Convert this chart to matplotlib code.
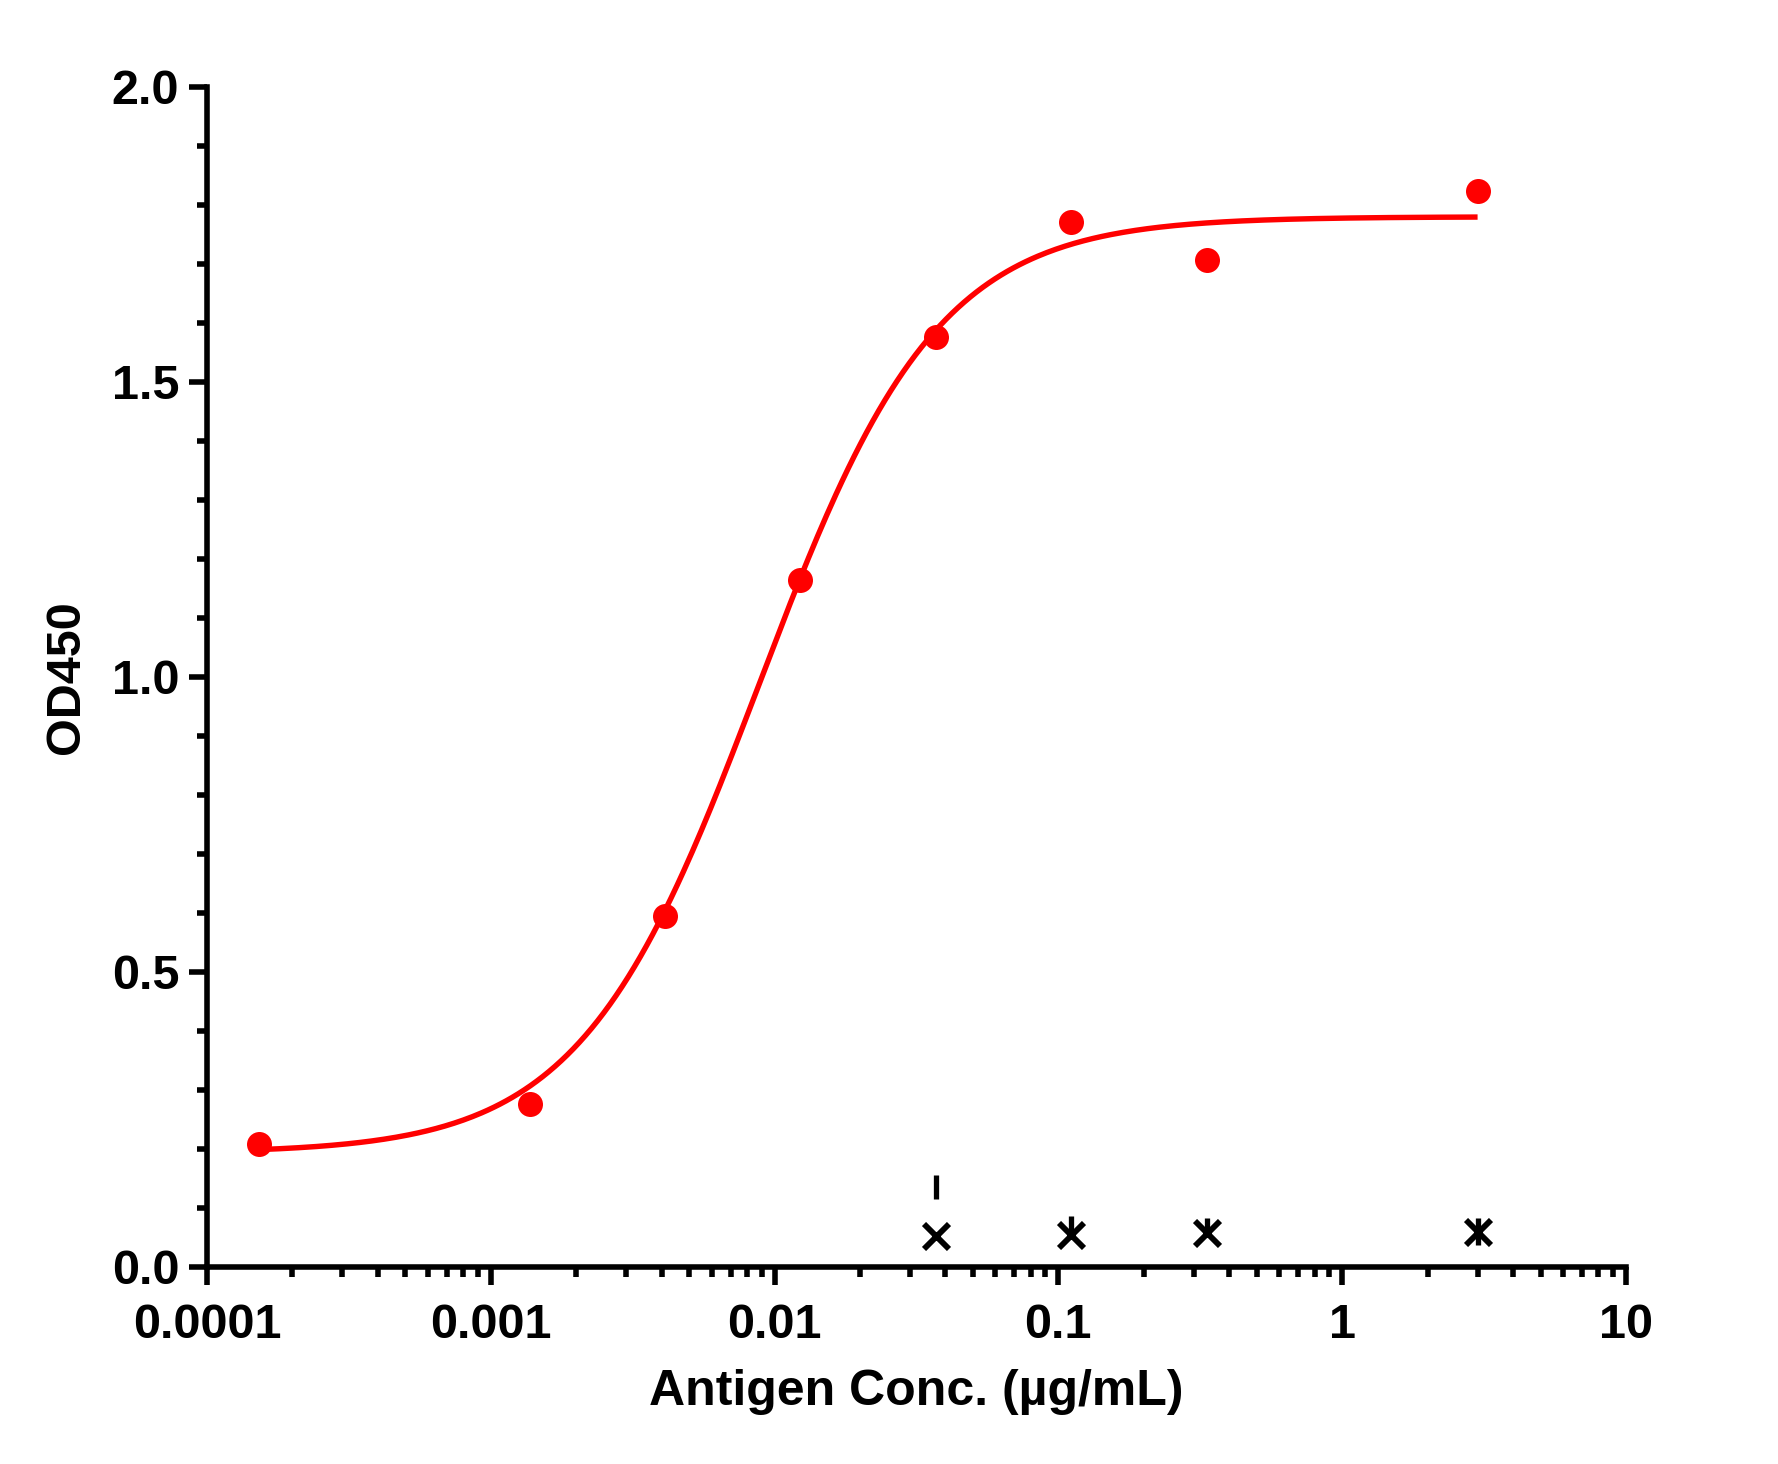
import numpy as np
import matplotlib
matplotlib.use("Agg")
import matplotlib.pyplot as plt
from matplotlib.ticker import FixedLocator, NullFormatter

plt.rcParams['font.family'] = ['Liberation Sans', 'DejaVu Sans']
plt.rcParams['font.weight'] = 'bold'

# ---- data ----
conc_sample = [0.000152, 0.00137, 0.00412, 0.0123, 0.037, 0.111, 0.333, 3.0]
od_sample = [0.208, 0.277, 0.595, 1.164, 1.577, 1.771, 1.706, 1.823]

conc_ctrl = [0.037, 0.111, 0.333, 3.0]
od_ctrl = [0.0525, 0.054, 0.057, 0.060]
ctrl_bar_low = [0.115, 0.054, 0.057, 0.037]
ctrl_bar_high = [0.156, 0.086, 0.083, 0.083]

# 4PL fit parameters
fit_bottom = 0.193
fit_top = 1.780
fit_ec50 = 0.0088
fit_hill = 1.38

x_ticks = [0.0001, 0.001, 0.01, 0.1, 1, 10]
x_tick_labels = ['0.0001', '0.001', '0.01', '0.1', '1', '10']
y_ticks = [0.0, 0.5, 1.0, 1.5, 2.0]
y_tick_labels = ['0.0', '0.5', '1.0', '1.5', '2.0']

x_label = 'Antigen Conc. (µg/mL)'
y_label = 'OD450'

# ---- figure ----
fig = plt.figure(figsize=(17.78, 14.64), dpi=100)
ax = fig.add_axes([0.1164, 0.1346, 0.9145 - 0.1164, 0.9406 - 0.1346])

red = '#FF0000'
xc = np.logspace(np.log10(min(conc_sample)), np.log10(max(conc_sample)), 400)
yc = fit_bottom + (fit_top - fit_bottom) / (1 + (fit_ec50 / xc) ** fit_hill)
ax.plot(xc, yc, color=red, lw=3.9, zorder=3, solid_capstyle='butt')
ax.plot(conc_sample, od_sample, 'o', color=red, markersize=18, mew=0, zorder=4)

ax.vlines(conc_ctrl, ctrl_bar_low, ctrl_bar_high, color='black', lw=3.8, zorder=4)
ax.plot(conc_ctrl, od_ctrl, 'x', color='black', markersize=18, mew=4.2, zorder=5)

ax.set_xscale('log')
ax.set_xlim(0.0001, 10)
ax.set_ylim(0, 2.0)

ax.xaxis.set_major_locator(FixedLocator(x_ticks))
ax.set_xticklabels(x_tick_labels)
minor = []
for d in x_ticks[:-1]:
    for k in range(2, 10):
        minor.append(d * k)
ax.xaxis.set_minor_locator(FixedLocator(minor))
ax.xaxis.set_minor_formatter(NullFormatter())

ax.set_yticks(y_ticks)
ax.set_yticklabels(y_tick_labels)
ax.yaxis.set_minor_locator(FixedLocator(np.arange(0, 2.0001, 0.1)))

for s in ['top', 'right']:
    ax.spines[s].set_visible(False)
for s in ['left', 'bottom']:
    ax.spines[s].set_linewidth(4.0)
    ax.spines[s].set_capstyle('projecting')

ax.tick_params(which='major', length=13, width=4.0, labelsize=35, color='black')
ax.tick_params(which='minor', length=7.5, width=4.0, color='black')
ax.tick_params(axis='x', which='major', pad=13)
ax.tick_params(axis='y', which='major', pad=7)

for lbl in ax.get_xticklabels() + ax.get_yticklabels():
    lbl.set_fontweight('bold')

ax.set_xlabel(x_label, fontsize=36, fontweight='bold', labelpad=15)
ax.set_ylabel(y_label, fontsize=35, fontweight='bold', labelpad=16)

fig.savefig('out.png', dpi=100)
